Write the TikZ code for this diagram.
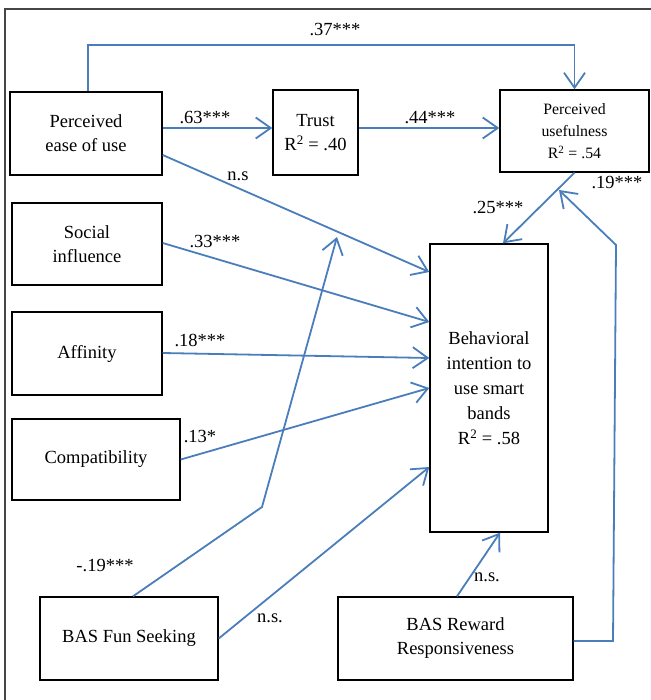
\documentclass[tikz,border=0pt]{standalone}
\usepackage{fontspec}
\setmainfont{Liberation Serif}
\usetikzlibrary{arrows.meta}
\definecolor{arrowblue}{RGB}{74,126,187}
\definecolor{framegray}{RGB}{70,70,70}
\tikzset{
  box/.style={draw=black, line width=1.4pt, align=center, inner sep=2pt,
    font=\fontsize{18.5}{24}\selectfont},
  conn/.style={draw=arrowblue, line width=1.8pt, line join=miter,
    -{Straight Barb[length=15pt,width=21pt,line width=1.8pt]}},
  lab/.style={font=\fontsize{18.5}{22}\selectfont, inner sep=0pt}
}
\begin{document}
\begin{tikzpicture}[x=1pt,y=-1pt]
\useasboundingbox (0,0) rectangle (650,700);
\draw[framegray, line width=1.6pt] (5,700) -- (5,9) -- (655,9);

% nodes
\node[box, minimum width=152, minimum height=83] (peou) at (86,133.5) {Perceived\\ease of use};
\node[box, minimum width=85, minimum height=85] (trust) at (315.5,132.5) {Trust\\R\textsuperscript{2} = .40};
\node[box, minimum width=149, minimum height=82, font=\fontsize{15.8}{22}\selectfont] (pu) at (574.5,131) {Perceived\\usefulness\\R\textsuperscript{2} = .54};
\node[box, minimum width=150, minimum height=82] (si) at (87,244) {Social\\influence};
\node[box, minimum width=150, minimum height=83] (aff) at (87,353.5) {Affinity};
\node[box, minimum width=168, minimum height=81] (comp) at (96,459.5) {Compatibility};
\node[box, minimum width=118, minimum height=288, font=\fontsize{18.5}{25}\selectfont] (bi) at (489,388) {Behavioral\\intention to\\use smart\\bands\\R\textsuperscript{2} = .58};
\node[box, minimum width=178, minimum height=83] (fun) at (129,638.5) {BAS Fun Seeking};
\node[box, minimum width=235, minimum height=83] (rew) at (455.5,638.5) {BAS Reward\\Responsiveness};

% free-end coordinates
\coordinate (bend1) at (262,507);
\coordinate (modtip) at (337,237);
\coordinate (c1) at (613,641);
\coordinate (c2) at (616,245);
\coordinate (putip) at (559,190);

% connectors
\draw[conn] ([xshift=2]peou.north) -- ++(0,-46) -| (pu.north);
\draw[conn] ([yshift=5.5]peou.east) -- ([yshift=4.5]trust.west);
\draw[conn] ([yshift=4.5]trust.east) -- ([yshift=3]pu.west);
\draw[conn] ([yshift=-21.5]peou.east) -- ([yshift=116]bi.west);
\draw[conn] ([yshift=1]si.east) -- ([yshift=66]bi.west);
\draw[conn] ([yshift=0.5]aff.east) -- ([yshift=30]bi.west);
\draw[conn] (comp.east) -- (bi.west);
\draw[conn] ([xshift=4]fun.north) -- (bend1) -- (modtip);
\draw[conn] (fun.east) -- ([yshift=-79]bi.west);
\draw[conn] ([xshift=1.5]rew.north) -- ([xshift=11]bi.south);
\draw[conn] ([yshift=-2.5]rew.east) -- (c1) -- (c2) -- (putip);
\draw[conn] (pu.south) -- ([xshift=14]bi.north);

% labels
\node[lab] (l37) at (335,30) {.37***};
\node[lab] (l63) at (205,118) {.63***};
\node[lab] (l44) at (430,118) {.44***};
\node[lab] (lns1) at (238,176) {n.s};
\node[lab] (l33) at (215,242) {.33***};
\node[lab] (l18) at (200,340) {.18***};
\node[lab] (l13) at (200,437) {.13*};
\node[lab] (l19m) at (105,565) {-.19***};
\node[lab] (lns2) at (270,618) {n.s.};
\node[lab] (lns3) at (487,577) {n.s.};
\node[lab] (l19) at (617,183) {.19***};
\node[lab] (l25) at (498,208) {.25***};
\end{tikzpicture}
\end{document}
